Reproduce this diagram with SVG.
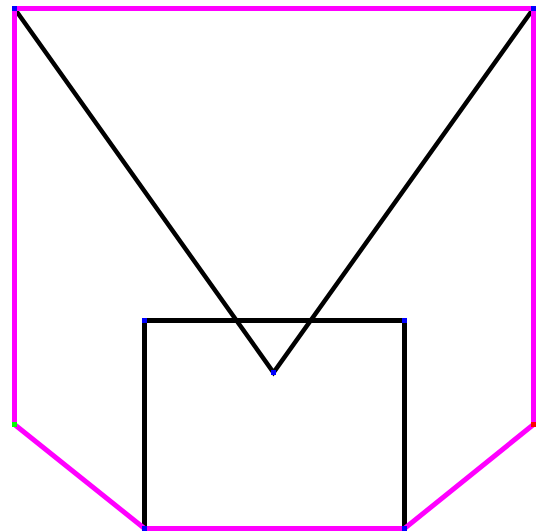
<svg xmlns="http://www.w3.org/2000/svg" width="537" height="531" viewBox="0 0 537 531">
<style>
.outline{fill:none;stroke:#ff00ff;stroke-width:5;stroke-linejoin:miter}
.blk{fill:none;stroke:#000000;stroke-width:5}
.diag{fill:none;stroke:#000000;stroke-width:4.5}
.pt{stroke:none}
</style>
<rect width="537" height="531" fill="#ffffff"/>
<g id="connectors">
<polyline class="diag" points="14.5,8.5 273.5,372.5 533.5,8.5"/>
<rect id="box" class="blk" x="144.5" y="320.5" width="260" height="208"/>
<polygon class="outline" points="14.5,8.5 533.5,8.5 533.5,424.5 404.5,528.5 144.5,528.5 14.5,424.5"/>
</g>
<g id="nodes">
<g id="p1"><rect class="pt" x="12" y="6" width="5" height="5" fill="#0000ff"/></g>
<g id="p2"><rect class="pt" x="531" y="6" width="5" height="5" fill="#0000ff"/></g>
<g id="p3"><rect class="pt" x="531" y="422" width="5" height="5" fill="#ff0000"/></g>
<g id="p4"><rect class="pt" x="402" y="526" width="5" height="5" fill="#0000ff"/></g>
<g id="p5"><rect class="pt" x="142" y="526" width="5" height="5" fill="#0000ff"/></g>
<g id="p6"><rect class="pt" x="12" y="422" width="5" height="5" fill="#00ff00"/></g>
<g id="p7"><rect class="pt" x="271" y="370" width="5" height="5" fill="#0000ff"/></g>
<g id="p8"><rect class="pt" x="142" y="318" width="5" height="5" fill="#0000ff"/></g>
<g id="p9"><rect class="pt" x="402" y="318" width="5" height="5" fill="#0000ff"/></g>
</g>
</svg>
